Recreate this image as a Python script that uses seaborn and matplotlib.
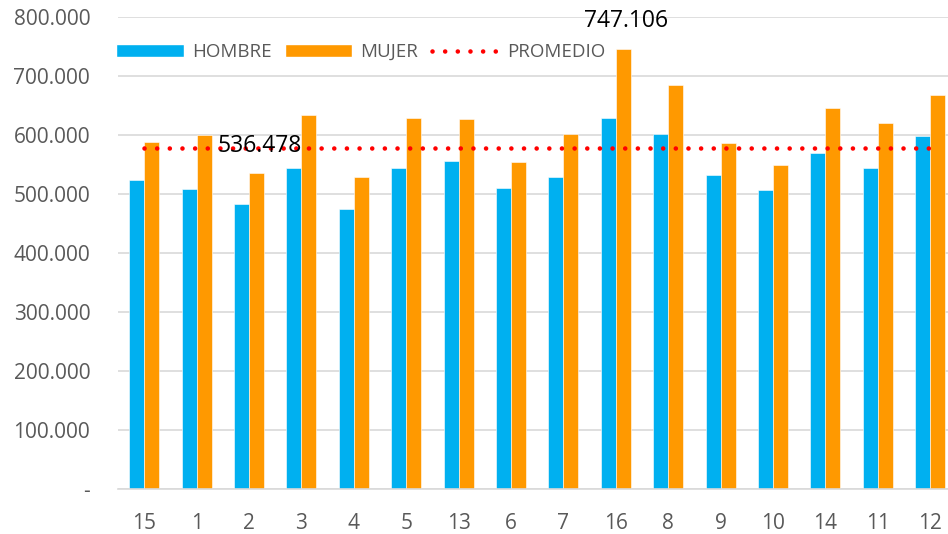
import pandas as pd
import seaborn as sns
import matplotlib.pyplot as plt
from matplotlib.lines import Line2D
from matplotlib.patches import Patch
from matplotlib.ticker import FuncFormatter

# data
categorias = ["15", "1", "2", "3", "4", "5", "13", "6", "7", "16", "8", "9", "10", "14", "11", "12"]
hombre = [524000, 509000, 484000, 545000, 475000, 544000, 557000, 511000,
          530000, 629000, 603000, 532000, 508000, 570000, 545000, 598000]
mujer = [589000, 600000, 536478, 634000, 530000, 630000, 628000, 555000,
         603000, 747106, 685000, 587000, 549000, 647000, 621000, 668000]
promedio = [578000] * len(categorias)
etiquetas = {"2": 536478, "16": 747106}  # labelled MUJER bars

C_HOMBRE = "#00B0F0"
C_MUJER = "#FF9900"
GRIS = "#595959"

sns.set_theme(style="whitegrid")
plt.rcParams["font.family"] = ["Open Sans", "DejaVu Sans"]

df = pd.DataFrame({
    "cat": categorias * 2,
    "valor": hombre + mujer,
    "sexo": ["HOMBRE"] * len(categorias) + ["MUJER"] * len(categorias),
})

fig = plt.figure(figsize=(9.48, 5.34), dpi=100)
ax = fig.add_axes([118 / 948, 1 - 489.3 / 534, 830 / 948, 472 / 534])

sns.barplot(data=df, x="cat", y="valor", hue="sexo", order=categorias,
            palette={"HOMBRE": C_HOMBRE, "MUJER": C_MUJER}, width=0.57,
            saturation=1, edgecolor="white", linewidth=0.4, ax=ax, legend=False)

ax.plot(range(len(categorias)), promedio, color="#FF0000", linewidth=3.3,
        linestyle=(0, (0.01, 2.75)), dash_capstyle="round")

# data labels above two MUJER bars
off = 0.57 / 4
for cat, v in etiquetas.items():
    i = categorias.index(cat)
    ax.text(i + off + 0.06, v + 46000, f"{v:,}".replace(",", "."), ha="center", va="center",
            fontsize=16.5, color="black", clip_on=False, zorder=5)

ax.set_ylim(0, 800000)
ax.set_xlim(-0.5, 15.34)
ax.yaxis.set_major_formatter(FuncFormatter(
    lambda v, p: "-" if v == 0 else f"{v / 1000:.3f}"))
ax.set_yticks(range(0, 800001, 100000))
ax.set_xlabel("")
ax.set_ylabel("")
ax.grid(axis="y", color="#D9D9D9", linewidth=1.2)
ax.grid(axis="x", visible=False)
for s in ["left", "right", "top"]:
    ax.spines[s].set_visible(False)
ax.spines["bottom"].set_color("#D9D9D9")
ax.spines["bottom"].set_linewidth(1.2)
ax.tick_params(axis="both", length=0, labelsize=15, labelcolor=GRIS)
ax.tick_params(axis="x", pad=17)
ax.tick_params(axis="y", pad=20)

handles = [
    Patch(facecolor=C_HOMBRE, label="HOMBRE"),
    Patch(facecolor=C_MUJER, label="MUJER"),
    Line2D([0], [0], color="#FF0000", linewidth=3.3, linestyle=(0, (0.01, 2.75)),
           dash_capstyle="round", label="PROMEDIO"),
]
leg = fig.legend(handles=handles, loc="center left", bbox_to_anchor=(116 / 948, 1 - 52 / 534),
                 ncol=3, frameon=False, fontsize=13.5, handlelength=3.6, handleheight=0.65,
                 handletextpad=0.45, columnspacing=0.7, borderpad=0, borderaxespad=0)
for t in leg.get_texts():
    t.set_color(GRIS)

fig.savefig("out.png", dpi=100)
